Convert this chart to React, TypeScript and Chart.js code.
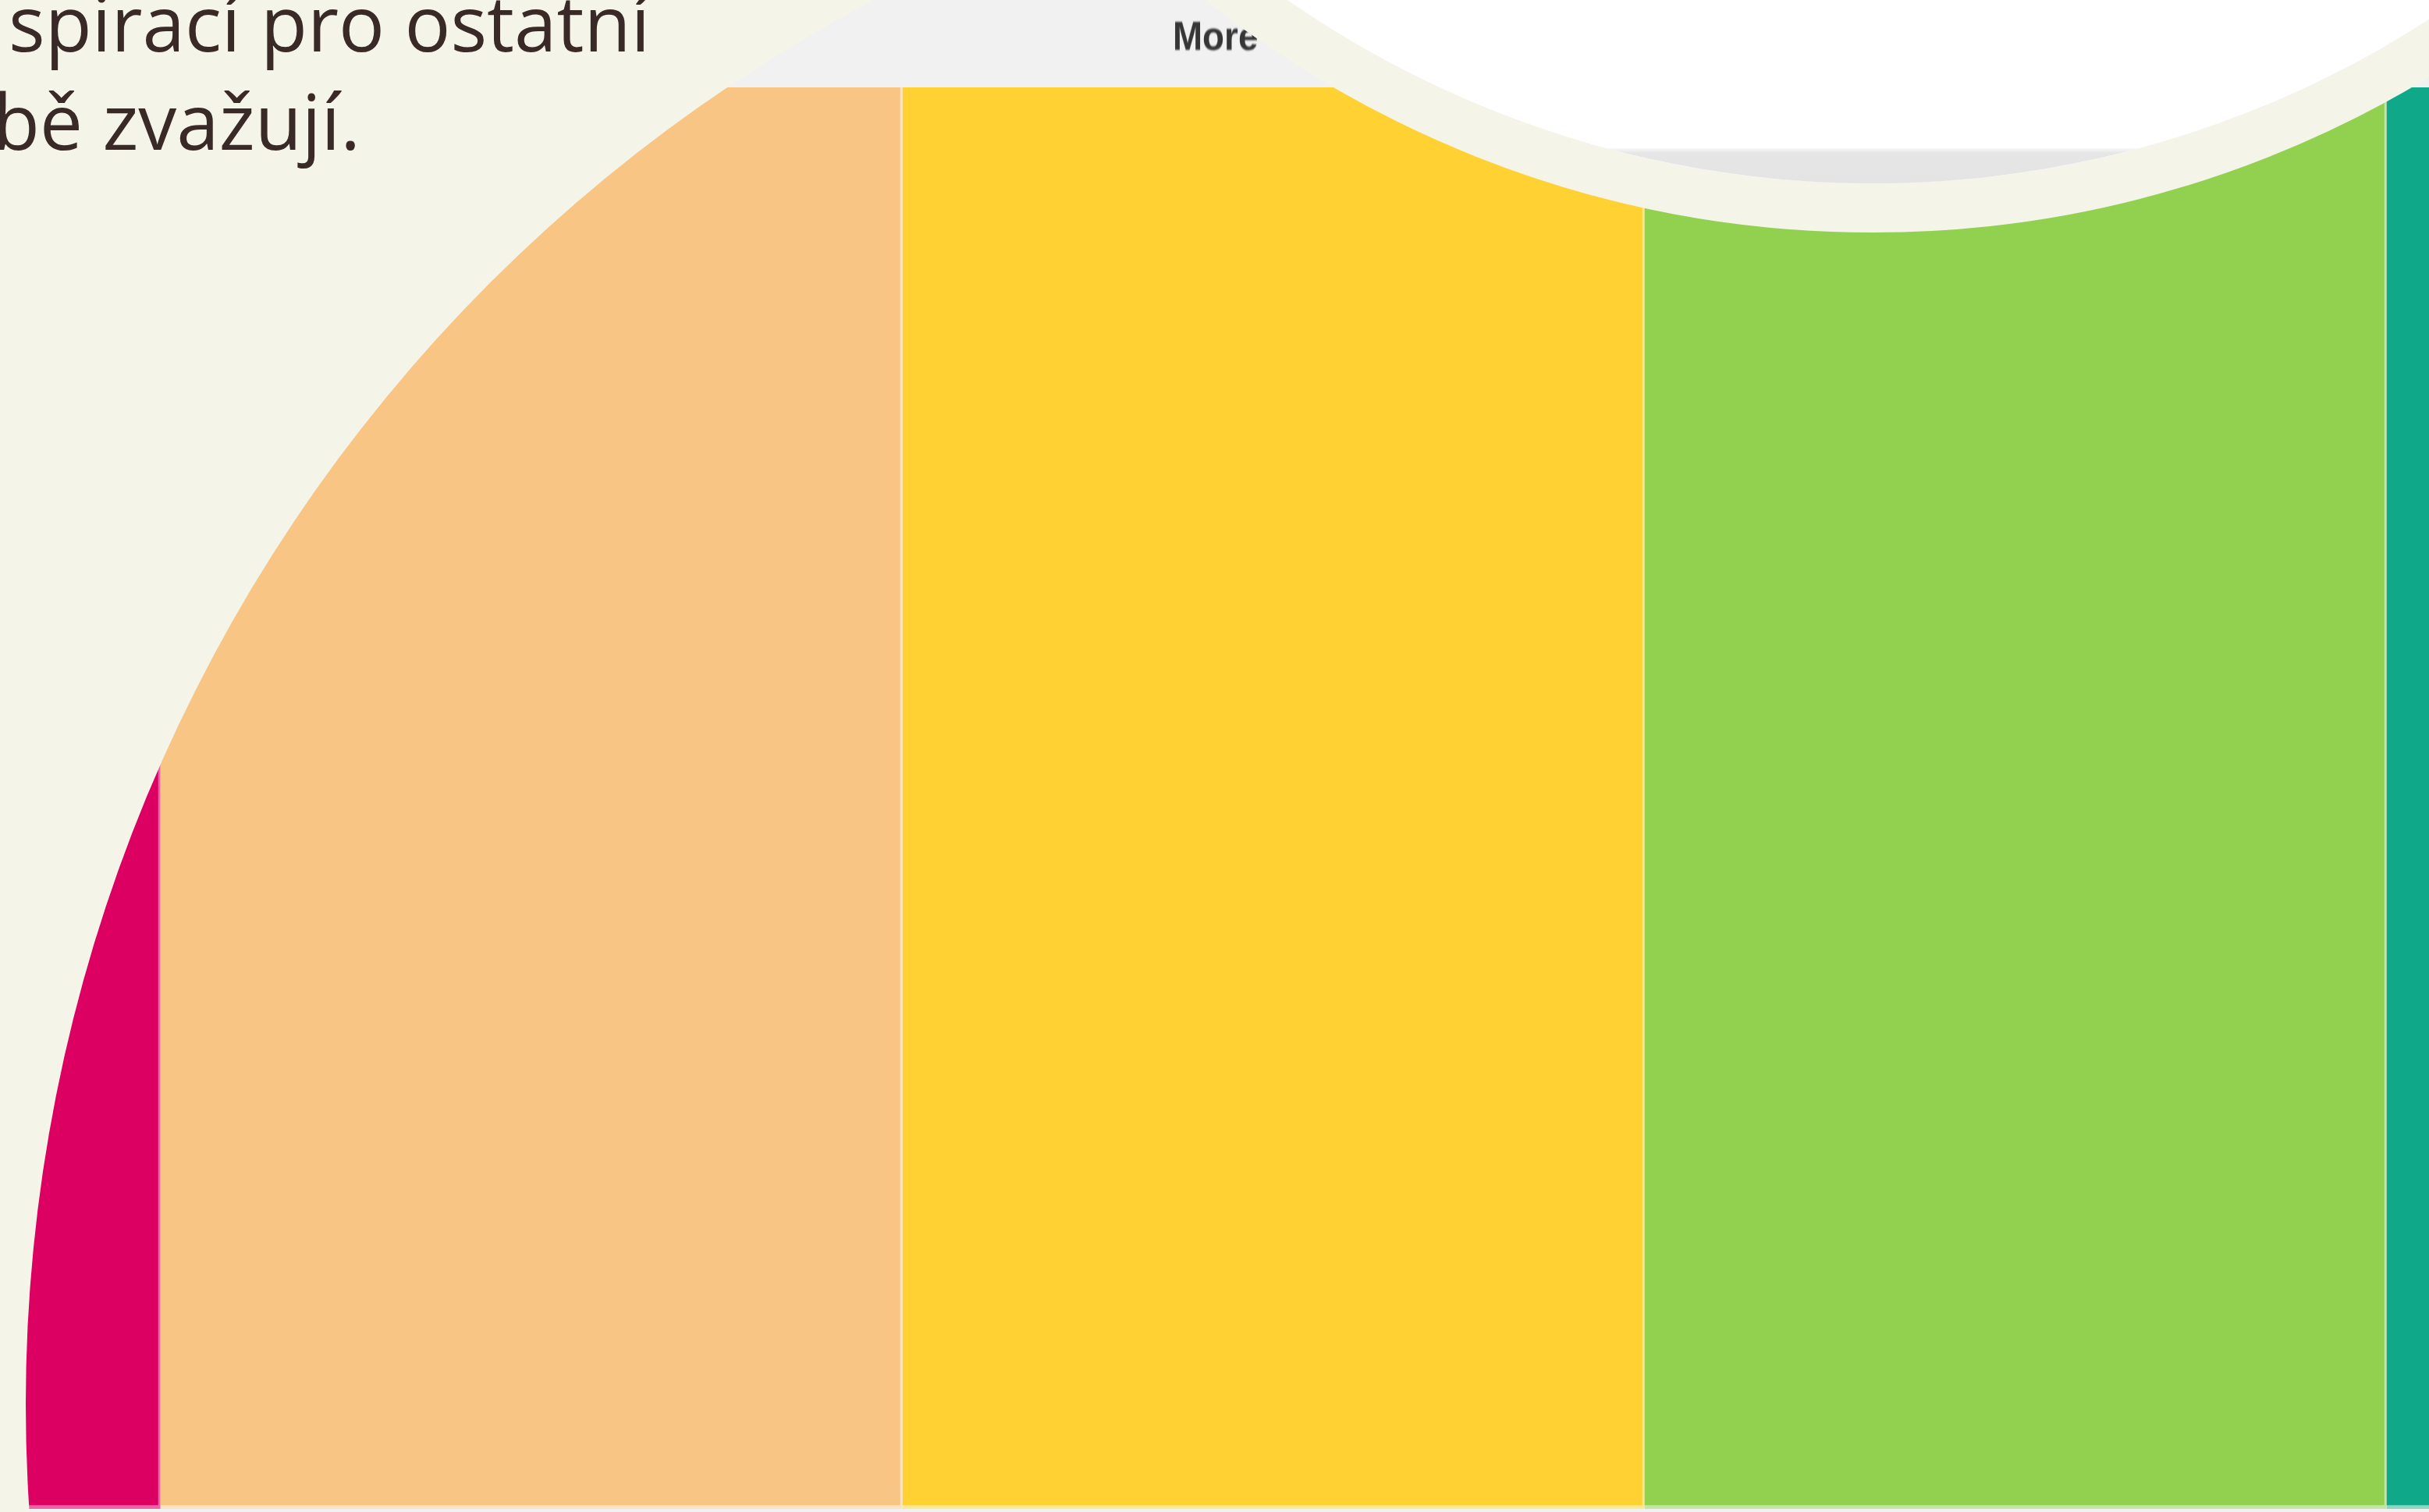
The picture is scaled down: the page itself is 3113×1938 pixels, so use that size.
import React, { useEffect, useRef } from "react";
import { Chart, registerables } from "chart.js";

Chart.register(...registerables);

// ---- data ----
const categories = ["Odpovědi"];
const seriesLabels = ["Rozhodně ne", "Spíše ne", "Nevím", "Spíše ano", "Rozhodně ano"];
const seriesValues = [10, 25, 25, 25, 15];
const seriesColors = ["#DB0062", "#F8C584", "#FFD132", "#91D14F", "#0FA888"];
const seriesBorders = ["#E866A6", "#FBE3C4", "#FFE88F", "#C4E6A3", "#8ED5C4"];
const textLine1 = "spirací pro ostatní";
const textLine2 = "sobě zvažují.";
const moreLabel = "More";

const CREAM = "#F4F4E8";

export default function App() {
  const canvasRef = useRef<HTMLCanvasElement | null>(null);

  useEffect(() => {
    document.body.style.margin = "0";
    document.body.style.overflow = "hidden";
    const canvas = canvasRef.current;
    if (!canvas) return;
    const chart = new Chart(canvas, {
      type: "bar",
      data: {
        labels: categories,
        datasets: seriesLabels.map((label, i) => ({
          label,
          data: [seriesValues[i]],
          backgroundColor: seriesColors[i],
          borderColor: seriesBorders[i],
          borderWidth: { top: 0, right: 3, bottom: 5, left: 0 },
          borderSkipped: false,
          barPercentage: 1,
          categoryPercentage: 1,
        })),
      },
      options: {
        indexAxis: "y",
        responsive: false,
        animation: false,
        devicePixelRatio: 1,
        layout: { padding: { top: 112, bottom: 4, left: 0, right: 0 } },
        scales: {
          x: { stacked: true, min: 0, max: 100, display: false },
          y: { stacked: true, display: false },
        },
        plugins: {
          legend: { display: false },
          tooltip: { enabled: false },
          title: { display: false },
        },
      },
    });
    return () => chart.destroy();
  }, []);

  // top lens circle geometry
  const ringR = 1375.6;
  const ringCx = 2400;
  const ringCy = -1077.6;
  const ringW = 63;

  return (
    <div
      style={{
        position: "fixed",
        left: 0,
        top: 0,
        width: 3113,
        height: 1938,
        overflow: "hidden",
        background: CREAM,
      }}
    >
      <div
        style={{
          position: "absolute",
          left: 0,
          top: 0,
          width: 3113,
          height: 1938,
          overflow: "hidden",
          clipPath: "circle(2034px at 2067px 1800px)",
        }}
      >
        <canvas
          ref={canvasRef}
          width={3804}
          height={1938}
          style={{
            position: "absolute",
            left: -175,
            top: 0,
            width: 3804,
            height: 1938,
            display: "block",
            background: "#F1F1F1",
          }}
        />
        <div
          style={{
            position: "absolute",
            left: 1503,
            top: 20,
            fontFamily: '"Liberation Sans", Arial, sans-serif',
            fontWeight: "bold",
            fontSize: 52,
            lineHeight: "52px",
            color: "#363636",
            whiteSpace: "nowrap",
            transform: "scaleX(0.88)",
            transformOrigin: "left top",
            filter: "blur(0.8px)",
          }}
        >
          {moreLabel}
        </div>
      </div>

      <div
        style={{
          position: "absolute",
          left: 11,
          top: -37,
          fontFamily: '"Open Sans", sans-serif',
          fontSize: 98,
          lineHeight: "130px",
          color: "#3A2A27",
          whiteSpace: "nowrap",
        }}
      >
        {textLine1}
      </div>
      <div
        style={{
          position: "absolute",
          right: 3113 - 462,
          top: 89,
          fontFamily: '"Open Sans", sans-serif',
          fontSize: 98,
          lineHeight: "130px",
          color: "#3A2A27",
          whiteSpace: "nowrap",
          textAlign: "right",
        }}
      >
        {textLine2}
      </div>

      <div
        style={{
          position: "absolute",
          left: ringCx - ringR,
          top: ringCy - ringR,
          width: ringR * 2,
          height: ringR * 2,
          boxSizing: "border-box",
          border: `${ringW}px solid ${CREAM}`,
          borderRadius: "50%",
          background: "#FFFFFF",
          overflow: "hidden",
        }}
      >
        <div
          style={{
            position: "absolute",
            left: 0,
            right: 0,
            top: 190 - (ringCy - ringR + ringW),
            height: 200,
            background: "linear-gradient(to bottom, #F8F8F8 0px, #E6E6E6 6px, #E4E4E4 40px)",
          }}
        />
      </div>
    </div>
  );
}
